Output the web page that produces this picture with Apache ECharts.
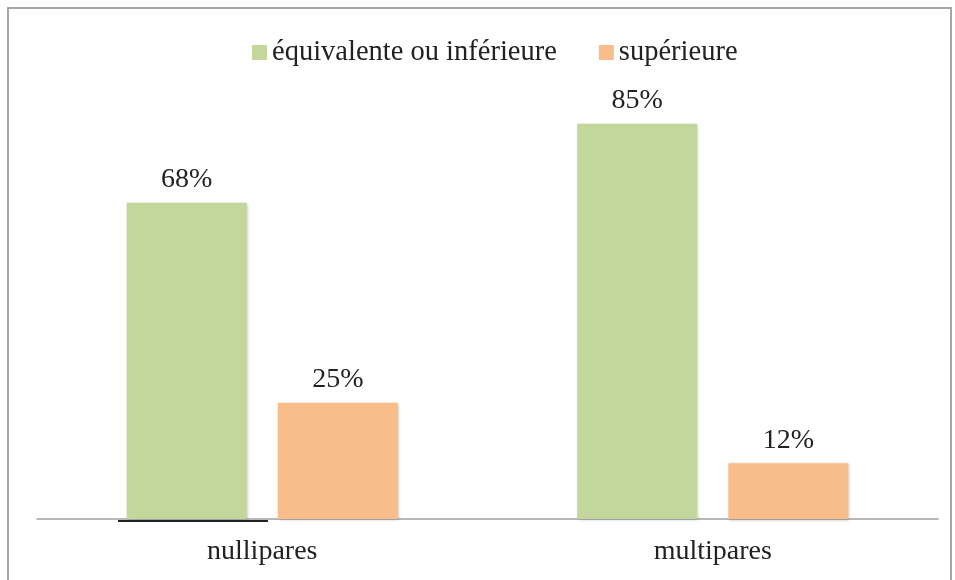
<!DOCTYPE html>
<html>
<head>
<meta charset="utf-8">
<script src="https://cdn.jsdelivr.net/npm/echarts@6/dist/echarts.min.js"></script>
<style>
  html, body { margin: 0; padding: 0; background: #fff; }
  #main { width: 955px; height: 580px; }
</style>
</head>
<body>
<div id="main"></div>
<script>
// données
var categories = ["nullipares", "multipares"];
var seriesNames = ["équivalente ou inférieure", "supérieure"];
var equivalente = [68, 85];
var superieure = [25, 12];

var font = "'Liberation Serif', 'DejaVu Serif', serif";
var chart = echarts.init(document.getElementById("main"));

function barSeries(name, values, color) {
  return {
    name: name,
    type: "bar",
    data: values,
    barWidth: 120,
    barGap: "26%",
    itemStyle: {
      color: color,
      shadowColor: "rgba(0,0,0,0.25)",
      shadowBlur: 3,
      shadowOffsetX: 1,
      shadowOffsetY: 1
    },
    label: {
      show: true,
      position: "top",
      distance: 9,
      formatter: "{c}%",
      color: "#222",
      fontFamily: font,
      fontSize: 28
    }
  };
}

chart.setOption({
  animation: false,
  grid: { left: 37, right: 17, top: 54, bottom: 61, containLabel: false },
  legend: {
    top: 33,
    left: 247,
    itemWidth: 15,
    itemHeight: 15,
    itemGap: 42,
    icon: "rect",
    textStyle: { fontFamily: font, fontSize: 28.5, color: "#222" },
    data: seriesNames
  },
  xAxis: {
    type: "category",
    data: categories,
    axisLine: { lineStyle: { color: "#a0a0a0", width: 1.5 } },
    axisTick: { show: false },
    axisLabel: { fontFamily: font, fontSize: 28, color: "#222", margin: 19 }
  },
  yAxis: {
    type: "value",
    min: 0,
    max: 100,
    show: false
  },
  graphic: [
    {
      type: "rect",
      shape: { x: 8, y: 8, width: 943, height: 600 },
      style: { fill: "none", stroke: "#a6a6a6", lineWidth: 2 },
      silent: true
    },
    {
      type: "line",
      shape: { x1: 118, y1: 521, x2: 268, y2: 521 },
      style: { stroke: "#222", lineWidth: 2 },
      silent: true
    }
  ],
  series: [
    barSeries(seriesNames[0], equivalente, "#c3d69b"),
    barSeries(seriesNames[1], superieure, "#f9bd8b")
  ]
});
</script>
</body>
</html>
